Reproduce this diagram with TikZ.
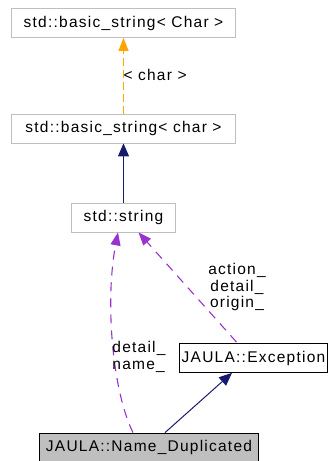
\documentclass[tikz,border=0pt]{standalone}
\usepackage{fontspec}
\newfontfamily\dotfont[LetterSpace=8]{Liberation Sans}
\usetikzlibrary{arrows.meta}
\usetikzlibrary{calc}

\definecolor{inhnavy}{HTML}{191970}
\definecolor{usepurple}{HTML}{9A32CD}
\definecolor{tplorange}{HTML}{FFA500}
\definecolor{extgray}{HTML}{BFBFBF}

\tikzset{
    dottext/.style={font={\dotfont\fontsize{15.5}{16.5}\selectfont}},
    extcls/.style={dottext, draw=extgray, line width=0.8pt, inner xsep=1pt, inner ysep=0pt, minimum height=29pt},
    cls/.style={extcls, draw=black},
    inh/.style={draw=inhnavy, line width=1pt, -{Triangle[width=11pt,length=13pt]}},
    usage/.style={draw=usepurple, line width=1.1pt, dash pattern=on 9pt off 7pt, -{Triangle[width=10pt,length=13pt]}},
    tpl/.style={draw=tplorange, line width=1.4pt, dash pattern=on 8pt off 4pt, -{Triangle[width=10pt,length=13pt]}}
}

\begin{document}
\begin{tikzpicture}[x=1pt,y=-1pt]
    \useasboundingbox (0,0) rectangle (329,461);

    \node[extcls, minimum width=224pt] (bstrT) at (123.5,23) {std::basic\_string<\ Char >};
    \node[extcls, minimum width=224pt] (bstrc) at (123.5,128.5) {std::basic\_string<\ char >};
    \node[extcls, minimum width=104pt] (str) at (123.5,217.5) {std::string};
    \node[cls, minimum width=148pt] (exc) at (253.5,358) {JAULA::Exception};
    \node[cls, minimum width=219pt, fill=extgray] (dup) at (149,447.5) {JAULA::Name\_Duplicated};

    % template instance and inheritance
    \draw[tpl] (bstrc.north) -- (bstrT.south);
    \node[dottext, right] (tplarg) at (120,75) {<\ char >};
    \draw[inh] (str.north) -- (bstrc.south);
    \draw[inh] ($(dup.north)+(16,0)$) -- ($(exc.south)+(-21.5,0)$);

    % members
    \draw[usage] ($(exc.north)+(-17,-1)$) -- ($(str.south)+(15,0)$);
    \node[dottext, align=center] (excmem) at (237,287) {action\_\\detail\_\\origin\_};
    \draw[usage] ($(dup.north)+(-16,0)$) .. controls (112,390) and (105,300) .. ($(str.south)+(-5.5,0)$);
    \node[dottext, align=left] (dupmem) at (139,357) {detail\_\\name\_};
\end{tikzpicture}
\end{document}
